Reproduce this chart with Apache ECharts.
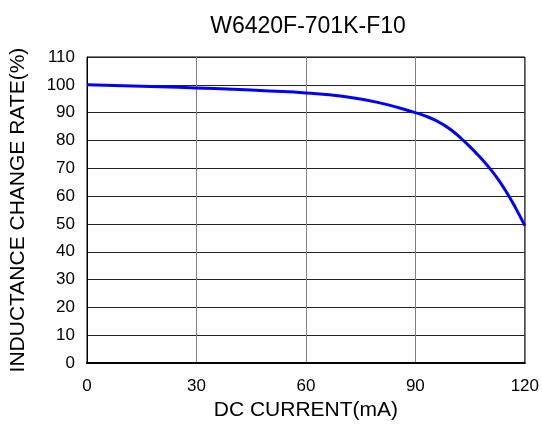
<!DOCTYPE html>
<html>
<head>
<meta charset="utf-8">
<script src="https://cdn.jsdelivr.net/npm/echarts@6/dist/echarts.min.js"></script>
<style>
  html, body { margin: 0; padding: 0; background: #fff; }
  #chart { width: 542px; height: 426px; }
</style>
</head>
<body>
<div id="chart"></div>
<script>
// DC current (mA) vs inductance change rate (%)
const current = [0, 10, 20, 30, 40, 50, 60, 70, 80, 90, 92.5, 95, 97.5, 100, 102.5, 105, 107.5, 110, 112.5, 115, 117.5, 120]
const changeRate = [100, 99.7, 99.3, 98.9, 98.4, 97.8, 97.1, 95.9, 93.6, 90, 88.9, 87.6, 85.8, 83.6, 80.8, 77.7, 74.3, 70.6, 66.4, 61.4, 55.7, 49.4]
const xTicks = [0, 30, 60, 90, 120]
const yTicks = [0, 10, 20, 30, 40, 50, 60, 70, 80, 90, 100, 110]

const font = 'Liberation Sans, Arial, sans-serif'
const myChart = echarts.init(document.getElementById('chart'))

myChart.setOption({
  animation: false,
  title: {
    text: 'W6420F-701K-F10',
    left: 303,
    textAlign: 'center',
    top: 10,
    textStyle: { fontFamily: font, fontSize: 23, fontWeight: 'normal', color: '#000' }
  },
  grid: { left: 86, right: 16, top: 57, bottom: 61, show: true, borderColor: '#000', borderWidth: 1 },
  xAxis: {
    type: 'value',
    min: xTicks[0],
    max: xTicks[xTicks.length - 1],
    interval: 30,
    name: 'DC CURRENT(mA)',
    nameLocation: 'middle',
    nameGap: 36,
    nameTextStyle: { fontFamily: font, fontSize: 21, color: '#000' },
    axisLine: { lineStyle: { color: '#000', width: 2 } },
    axisTick: { show: false },
    axisLabel: { fontFamily: font, fontSize: 17, color: '#000', margin: 15 },
    splitLine: { show: true, lineStyle: { color: '#808080', width: 1 } }
  },
  yAxis: {
    type: 'value',
    min: yTicks[0],
    max: yTicks[yTicks.length - 1],
    interval: 10,
    name: 'INDUCTANCE CHANGE RATE(%)',
    nameLocation: 'middle',
    nameGap: 58,
    nameTextStyle: { fontFamily: font, fontSize: 21, color: '#000' },
    axisLine: { show: true, lineStyle: { color: '#000', width: 1 } },
    axisTick: { show: false },
    axisLabel: { fontFamily: font, fontSize: 17, color: '#000', margin: 12 },
    splitLine: { show: true, lineStyle: { color: '#222', width: 1 } }
  },
  series: [{
    type: 'line',
    data: current.map((c, i) => [c, changeRate[i]]),
    smooth: 0.5,
    showSymbol: false,
    lineStyle: { color: '#0000ff', width: 3 }
  }]
})
</script>
</body>
</html>
